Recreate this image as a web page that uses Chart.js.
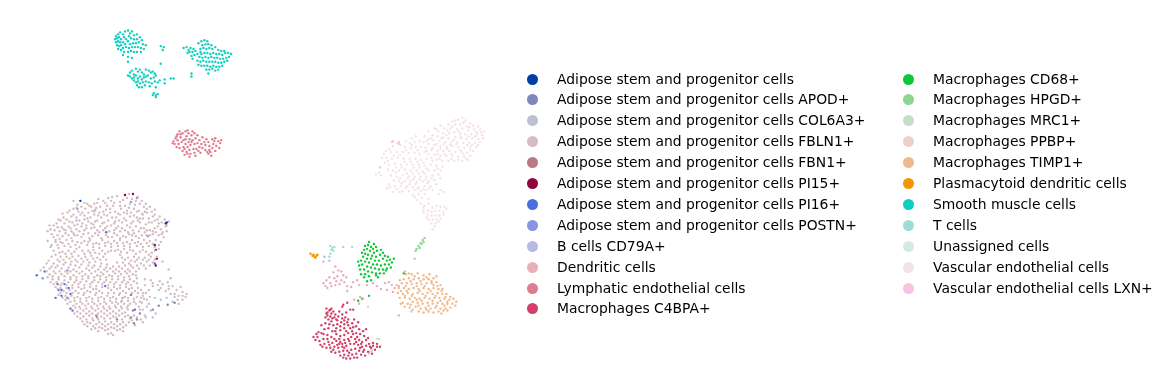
<!DOCTYPE html>
<html>
<head>
<meta charset="utf-8">
<title>UMAP cell types</title>
<script src="https://cdn.jsdelivr.net/npm/chart.js@4/dist/chart.umd.min.js"></script>
<style>
  body { margin: 0; background: #fff; }
  #wrap { position: relative; width: 1168px; height: 389px; overflow: hidden; }
  #legend {
    position: absolute; left: 526.5px; top: 68.6px;
    font-family: "DejaVu Sans", sans-serif; font-size: 13.89px; color: #000;
  }
  .col { position: absolute; top: 0; }
  .row { height: 20.9px; line-height: 20.9px; white-space: nowrap; position: relative; padding-left: 30.5px; }
  .dot { position: absolute; left: 0; top: 5px; width: 11px; height: 11px; border-radius: 50%; }
</style>
</head>
<body>
<div id="wrap">
  <canvas id="umap" width="1168" height="389"></canvas>
  <div id="legend"></div>
</div>
<script>
// ---------------------------Data------------------------------------------------
const categories = [
  'Adipose stem and progenitor cells', 'Adipose stem and progenitor cells APOD+',
  'Adipose stem and progenitor cells COL6A3+', 'Adipose stem and progenitor cells FBLN1+',
  'Adipose stem and progenitor cells FBN1+', 'Adipose stem and progenitor cells PI15+',
  'Adipose stem and progenitor cells PI16+', 'Adipose stem and progenitor cells POSTN+',
  'B cells CD79A+', 'Dendritic cells', 'Lymphatic endothelial cells', 'Macrophages C4BPA+',
  'Macrophages CD68+', 'Macrophages HPGD+', 'Macrophages MRC1+', 'Macrophages PPBP+',
  'Macrophages TIMP1+', 'Plasmacytoid dendritic cells', 'Smooth muscle cells', 'T cells',
  'Unassigned cells', 'Vascular endothelial cells', 'Vascular endothelial cells LXN+'
];
const colors = [
  '#023fa5', '#7d87b9', '#bec1d4', '#d6bcc0', '#bb7784', '#8e063b', '#4a6fe3', '#8595e1',
  '#b5bbe3', '#e6afb9', '#e07b91', '#d33f6a', '#11c638', '#8dd593', '#c6dec7', '#ead3c6',
  '#f0b98d', '#ef9708', '#0fcfc0', '#9cded6', '#d5eae7', '#f3e1eb', '#f6c4e1'
];

// umap positions, as x,y pairs
const adiposeStem = [77,201, 164,223, 163,224, 152,246];
const apod = [128,320, 131,326, 134,322, 137,316, 150,312, 156,308, 165,307, 172,305, 130,313, 128,297];
const col6a3 = [44,242, 48,246, 52,243, 47,248, 150,288, 156,292, 160,286, 166,288, 172,296, 152,300, 158,302, 164,300, 170,304, 176,306, 146,306, 120,300, 118,304, 125,308, 142,318, 150,320, 70,201, 138,300, 143,295, 168,280];
const fbn1 = [114,322, 93,318];
const pi15 = [122,195, 130,194, 153,251, 154,260, 153,267];
const pi16 = [33,277, 41,273, 52,300, 54,286, 61,286, 65,290, 58,292, 55,292, 67,296, 64,300, 58,298, 67,311, 69,313, 102,288, 132,312, 152,265, 103,233];
const postn = [39,280, 64,272, 74,209, 128,202, 134,198, 145,237, 94,320];
const bCells = [323,258, 328,262, 414,260, 73,221, 92,210];
const dendritic = [334,268, 337,272, 332,274, 340,273, 336,278, 333,280, 328,279, 340,282, 325,282, 329,285, 324,288, 330,288, 334,287, 338,286, 343,284, 346,288, 322,285, 326,290, 335,283, 342,277, 352,284, 356,282, 350,289, 346,293, 358,287, 366,287, 372,285, 376,288, 380,291, 384,285, 388,284, 391,287, 394,290, 386,292, 392,294, 398,288, 353,302, 358,306, 362,301, 398,318, 322,263, 345,279];
const lymphatic = [171,140, 173,137, 175,133, 177,130, 180,132, 183,130, 186,132, 189,134, 172,143, 175,139, 178,136, 181,139, 184,135, 187,138, 176,143, 179,141, 183,143, 186,141, 190,139, 193,137, 177,147, 181,146, 185,146, 188,144, 192,143, 195,142, 180,150, 184,151, 187,149, 191,148, 185,153, 188,153, 192,152, 196,150, 200,147, 203,144, 206,141, 210,138, 213,137, 216,140, 218,142, 204,138, 207,145, 211,143, 214,145, 217,147, 203,149, 207,149, 210,147, 213,150, 206,153, 209,155, 205,151, 199,143, 197,139, 195,134, 200,136, 174,146, 190,130, 182,148,
  178,133, 185,129, 192,132, 174,135, 170,142, 183,138, 189,141, 197,146, 194,148, 198,152, 193,155, 187,156, 182,154, 208,151, 212,140, 219,139, 202,141];
const c4bpa = [326,315, 328,313, 330,316, 332,314, 334,317, 326,318, 329,319, 331,321, 333,320, 327,322, 324,320, 330,324, 335,322, 337,319, 338,314, 341,317, 344,320, 347,322, 340,325, 343,327, 336,327, 332,328, 328,327, 324,326, 320,328, 317,335, 312,340, 316,340, 320,336, 323,332, 327,331, 331,334, 335,331, 339,333, 343,331, 347,328, 351,326, 355,329, 358,332, 362,334, 363,339, 359,337, 355,336, 351,334, 347,336, 343,338, 339,339, 335,337, 330,340, 326,338, 322,342, 318,344, 314,343, 319,348, 323,347, 327,345, 331,346, 335,344, 339,345, 343,343, 347,342, 350,340, 354,342, 358,343, 361,345, 365,343, 368,347, 372,346, 376,350, 379,350, 374,353, 370,351, 365,349, 361,350, 357,348, 353,347, 349,347, 345,349, 341,350, 337,351, 333,350, 329,351, 325,351, 330,355, 334,356, 338,355, 342,354, 346,354, 350,353, 354,352, 358,354, 362,355, 367,355, 371,357, 364,359, 360,358, 355,357, 351,358, 347,359, 343,358, 339,359, 345,362, 349,362, 353,361, 342,361, 338,347, 329,312, 325,311, 343,323, 349,312, 353,322, 357,325, 341,309, 346,305, 352,312, 345,315, 342,307, 365,332,
  325,316, 330,311, 336,323, 339,329, 345,334, 322,337, 315,337, 333,342, 328,348, 321,350, 336,348, 341,347, 348,344, 352,337, 356,340, 349,331, 341,321, 360,347, 363,353, 369,350, 356,361, 348,356, 343,351, 338,342, 344,346, 332,353, 326,342, 334,334, 352,330, 346,325, 367,341, 372,349, 376,347, 359,351, 355,345];
const cd68 = [364,247, 367,246, 370,248, 372,250, 375,248, 363,251, 366,250, 369,252, 373,254, 376,252, 361,254, 364,255, 367,256, 371,257, 375,258, 379,256, 382,254, 384,257, 387,258, 389,261, 391,264, 386,262, 382,260, 378,262, 374,262, 370,260, 366,260, 362,258, 360,262, 364,263, 368,264, 372,266, 376,266, 380,267, 384,266, 388,266, 390,269, 386,270, 382,271, 378,271, 374,270, 370,269, 366,268, 361,266, 358,267, 359,271, 363,271, 367,273, 371,274, 375,275, 379,275, 383,275, 364,276, 368,278, 363,279, 366,283, 370,282, 375,277, 377,279, 368,298, 361,301, 357,303, 403,275, 373,245, 368,243, 380,251, 393,260, 385,272, 357,263, 360,276];
const hpgd = [424,239, 422,241, 423,243, 420,244, 418,247, 416,250, 415,252, 419,249, 421,245, 359,299];
const mrc1 = [370,352, 371,354, 369,355, 368,357, 378,342];
const ppbp = [411,314, 367,309];
const timp1 = [405,276, 411,276, 417,275, 423,277, 429,276, 403,281, 408,280, 413,281, 418,280, 423,281, 428,281, 433,280, 401,285, 406,285, 411,286, 416,285, 421,286, 426,285, 431,285, 436,284, 440,287, 398,290, 403,290, 408,291, 413,290, 418,291, 423,290, 428,291, 433,290, 438,291, 442,291, 397,295, 402,296, 407,295, 412,296, 417,295, 422,296, 427,295, 432,296, 437,295, 442,296, 446,296, 450,299, 399,300, 404,300, 409,301, 414,300, 419,301, 424,300, 429,301, 434,300, 439,300, 444,301, 449,302, 453,301, 456,304, 402,305, 407,306, 412,304, 417,305, 422,306, 427,305, 432,306, 437,305, 442,306, 447,306, 452,306, 455,308, 409,310, 415,309, 420,311, 425,310, 430,311, 435,310, 440,311, 445,311, 450,310, 418,314, 423,315, 428,314, 433,315, 438,314, 443,313, 447,313, 399,282, 396,287, 404,273, 436,278,
  408,275, 414,278, 420,283, 426,279, 431,283, 405,288, 410,283, 416,288, 424,288, 433,287, 437,288, 400,293, 406,293, 411,298, 419,293, 425,298, 430,293, 435,298, 441,293, 445,299, 404,298, 416,302, 421,303, 432,303, 440,303, 447,304, 410,307, 418,308, 428,308, 436,308, 444,308, 412,312, 426,312, 441,316, 400,306, 404,309];
const plasmacytoid = [309,255, 312,256, 313,258, 315,257, 314,259, 316,256, 311,257];
const smoothMuscle = [
  // top left group
  113,33, 115,31, 117,29, 120,31, 122,28, 125,27, 127,30, 129,28, 131,32, 134,31, 112,36, 114,35, 116,34, 118,36, 121,34, 123,36, 126,33, 128,35, 131,36, 134,36, 137,34, 139,37, 113,39, 115,38, 117,39, 120,39, 122,41, 125,38, 127,41, 130,40, 133,40, 136,39, 140,41, 143,42, 114,42, 116,43, 118,42, 120,45, 123,44, 126,45, 129,44, 132,44, 135,44, 138,45, 141,46, 115,46, 118,47, 121,49, 125,49, 128,48, 131,49, 134,49, 138,49, 120,52, 125,54, 129,55, 125,59, 158,43, 160,47,
  // right group
  181,45, 184,44, 186,47, 188,45, 191,46, 185,50, 187,49, 190,49, 193,48, 189,53, 192,52, 195,51, 198,49, 197,54, 196,40, 199,38, 202,37, 205,38, 200,42, 203,41, 206,41, 209,42, 198,46, 201,45, 204,46, 207,45, 210,46, 213,44, 216,47, 219,48, 222,48, 199,51, 202,50, 205,50, 208,51, 211,50, 214,51, 217,51, 220,52, 223,50, 226,50, 229,51, 200,55, 203,54, 206,55, 209,54, 212,55, 215,55, 218,56, 221,56, 224,55, 227,54, 195,58, 198,59, 201,58, 204,59, 207,59, 210,59, 213,59, 216,60, 219,60, 222,59, 225,58, 196,62, 199,63, 202,63, 205,63, 208,64, 211,63, 214,64, 217,64, 220,63, 204,67, 207,67, 210,66, 213,68, 216,67, 206,71, 190,56, 189,71,
  // lower group
  125,73, 127,70, 129,68, 131,72, 133,66, 135,69, 137,67, 139,70, 141,72, 143,67, 146,68, 148,70, 150,69, 152,71, 127,74, 129,76, 131,75, 133,73, 135,76, 137,74, 139,77, 141,75, 143,74, 145,73, 148,76, 151,75, 153,73, 131,78, 133,80, 135,79, 137,81, 140,80, 143,79, 146,80, 149,81, 152,79, 134,83, 136,85, 139,85, 142,83, 147,84, 153,85, 155,80, 157,78, 162,77, 162,81, 151,91, 153,93, 155,92, 153,95, 150,93, 168,76, 171,76, 158,61, 161,44, 189,74
];
const tCells = [329,247, 331,249, 333,248, 330,251, 332,252, 329,255, 328,258, 342,248, 351,248];
const unassigned = [410,314, 339,286, 376,342];
const vascular = [
  // upper right lobe
  462,116, 458,118, 452,120, 465,119, 470,122, 448,123, 455,123, 460,123, 467,125, 473,124, 478,125, 440,124, 444,127, 450,127, 457,128, 462,127, 468,129, 474,128, 480,128, 484,130, 434,127, 438,130, 443,132, 449,132, 454,131, 460,132, 465,133, 471,133, 477,133, 482,134, 428,130, 432,134, 437,135, 443,136, 448,137, 455,136, 461,137, 466,138, 472,137, 478,138, 483,137, 424,135, 428,138, 433,139, 439,140, 445,141, 451,141, 457,141, 463,142, 469,142, 475,142, 480,141, 423,141, 428,143, 434,144, 440,145, 446,146, 452,145, 458,146, 464,147, 470,146, 476,146, 425,147, 431,149, 437,150, 443,150, 449,150, 455,151, 461,151, 467,152, 473,150, 428,153, 434,154, 440,155, 446,155, 452,155, 458,156, 464,156, 470,155, 436,159, 442,160, 448,160, 454,160, 462,160, 468,159,
  455,119, 463,121, 447,129, 452,125, 458,130, 469,126, 476,131, 436,128, 441,137, 431,137, 446,134, 453,139, 460,135, 468,135, 475,135, 481,131, 426,140, 436,143, 443,143, 450,144, 456,143, 467,144, 472,144, 478,144, 432,147, 440,148, 447,148, 460,149, 470,149, 426,150, 437,153, 444,153, 451,153, 463,153, 431,157, 439,158, 451,158, 458,159, 466,158,
  // left lobe
  411,137, 415,135, 405,140, 409,142, 414,141, 419,140, 396,142, 400,144, 404,146, 410,147, 415,146, 420,146, 392,145, 388,148, 385,150, 383,153, 390,151, 396,151, 402,151, 408,152, 414,152, 419,153, 424,151, 381,157, 385,157, 391,158, 397,157, 403,158, 409,158, 415,158, 420,159, 426,158, 432,160, 384,162, 388,164, 394,163, 400,164, 406,164, 412,164, 418,164, 424,165, 430,164, 436,165, 442,166, 387,169, 392,170, 398,170, 404,169, 410,170, 416,170, 422,171, 428,170, 434,170, 440,170, 378,172, 375,174, 380,175, 390,175, 396,176, 402,175, 408,176, 414,176, 420,176, 426,176, 432,175, 438,174, 393,180, 398,181, 404,181, 410,181, 416,182, 422,181, 428,181, 434,180, 440,178, 388,184, 394,186, 400,186, 406,186, 412,187, 418,187, 424,186, 430,186, 436,184, 396,189, 402,191, 408,191, 414,190, 420,191, 426,190, 432,190, 440,190, 386,188, 392,192, 412,195, 418,194, 424,194, 438,194, 443,192, 389,187,
  411,144, 417,149, 405,149, 399,154, 393,155, 387,160, 404,161, 410,161, 417,161, 423,162, 395,167, 401,167, 413,167, 419,167, 426,168, 437,168, 406,173, 412,173, 418,173, 424,173, 395,172, 399,178, 407,178, 413,179, 419,179, 425,179, 431,178, 401,183, 409,184, 415,184, 427,183, 405,188, 417,189, 423,189, 429,188, 399,192,
  // tail
  414,197, 416,200, 421,198, 428,199, 420,204, 424,206, 428,204, 432,208, 436,206, 440,207, 444,207, 446,209, 423,210, 427,211, 431,212, 435,211, 439,211, 443,212, 427,215, 431,216, 435,216, 439,216, 443,215, 423,207, 428,220, 432,220, 436,220, 440,219, 431,224, 435,224, 438,222, 434,227, 432,230, 423,213, 426,218
];
const lxn = [392,140, 398,141, 398,143, 379,167, 391,141];
const fbln1 = [
  100,201, 105,198, 111,203, 114,196, 120,200, 124,198, 129,199, 135,197, 91,204, 97,207, 104,206, 117,206, 127,204, 137,204, 141,207, 84,204, 78,207, 109,197, 132,205, 122,206,
  70,209, 75,212, 82,209, 89,211, 93,208, 100,212, 107,209, 112,212, 118,209, 124,211, 131,209, 136,211, 144,209, 149,212, 86,206, 96,213, 115,214, 128,213, 139,214, 79,213,
  64,213, 68,217, 73,218, 81,216, 87,218, 91,215, 98,218, 104,216, 109,218, 117,215, 121,219, 127,217, 134,218, 140,215, 146,219, 152,215, 157,217, 60,218, 76,221, 85,222, 94,221, 101,223, 112,222, 119,223, 130,222, 137,223,
  55,220, 61,224, 66,222, 71,226, 79,224, 83,226, 90,225, 97,227, 104,227, 108,226, 115,227, 124,226, 127,228, 133,227, 143,225, 149,223, 156,224, 162,220, 166,222, 50,226, 58,228, 65,227, 73,230, 88,229, 94,231, 122,231, 136,232, 141,229, 147,231,
  46,226, 51,231, 56,232, 62,231, 68,232, 76,232, 81,231, 85,234, 100,231, 106,232, 111,231, 117,232, 130,231, 152,229, 158,230, 163,227, 48,235, 54,236, 59,237, 65,236, 71,236, 78,238, 89,237, 95,236, 103,236, 109,238, 114,236, 120,237, 126,235, 133,237, 139,236, 144,236, 150,235, 156,236, 161,238,
  52,241, 57,243, 63,241, 69,242, 74,243, 81,242, 87,241, 93,244, 99,241, 105,243, 111,242, 117,241, 124,243, 129,241, 135,243, 141,241, 147,242, 153,241, 158,243, 61,247, 67,248, 76,248, 84,246, 90,248, 96,249, 102,247, 108,248, 115,247, 121,247, 127,248, 134,247, 140,248, 146,247, 152,248,
  55,249, 59,253, 65,252, 71,253, 79,252, 85,252, 92,254, 99,252, 105,253, 112,252, 118,253, 124,254, 130,252, 137,253, 143,253, 149,254, 156,250, 52,256, 57,258, 63,258, 69,258, 75,257, 82,258, 88,257, 94,259, 100,258, 119,259, 125,259, 131,258, 136,259, 142,259, 148,258, 154,258,
  45,262, 50,265, 56,263, 62,264, 68,263, 74,263, 80,263, 86,264, 92,263, 98,265, 104,266, 114,264, 120,264, 126,265, 132,263, 138,265, 144,263, 150,264, 160,263, 40,269, 46,270, 52,269, 58,270, 65,269, 70,271, 76,269, 83,270, 89,269, 95,271, 101,271, 107,270, 113,271, 119,270, 125,271, 130,269, 136,270, 143,270, 166,271,
  46,276, 52,275, 58,276, 64,275, 70,277, 76,275, 82,276, 88,275, 94,277, 100,276, 106,277, 112,275, 118,276, 124,275, 130,276, 49,281, 55,281, 61,282, 67,281, 73,282, 79,281, 85,280, 91,282, 97,281, 103,282, 109,281, 115,281, 121,282, 127,281, 134,280, 142,281,
  50,286, 57,287, 63,287, 69,287, 75,286, 81,287, 87,286, 93,288, 99,286, 105,287, 111,286, 117,287, 123,286, 128,287, 134,285, 150,285, 157,283, 165,284, 54,291, 60,293, 66,292, 72,293, 78,291, 84,293, 90,291, 96,293, 108,292, 114,291, 120,293, 126,291, 132,293, 138,292, 146,292, 158,290, 166,291, 174,292, 180,294, 184,296,
  55,297, 62,298, 68,298, 74,299, 80,297, 86,299, 92,297, 98,299, 104,298, 110,299, 116,297, 122,299, 128,297, 134,299, 140,298, 147,299, 168,296, 176,298, 183,299, 62,302, 71,303, 77,304, 83,303, 89,304, 95,303, 101,304, 107,303, 113,304, 119,303, 125,303, 131,304, 137,304, 144,302, 175,302, 180,302,
  64,306, 70,308, 76,309, 82,308, 88,309, 94,308, 100,309, 106,309, 112,308, 118,309, 124,310, 136,309, 68,312, 74,314, 80,313, 86,314, 92,313, 98,314, 104,313, 110,314, 116,313, 122,315, 140,312, 148,313, 153,316, 74,319, 80,319, 86,318, 98,319, 104,318, 110,319, 116,318, 122,319, 134,320, 143,320,
  79,324, 84,325, 90,323, 96,325, 102,324, 108,325, 114,324, 120,325, 126,325, 84,329, 90,329, 96,330, 102,329, 108,330, 114,329, 120,330, 132,328, 140,325, 88,332, 95,334, 102,333, 108,336, 114,333, 120,334, 105,337, 110,338,
  // filled in between the rows above
  95,199, 102,203, 108,201, 117,202, 126,194, 133,201, 139,201, 88,207, 74,205, 81,203, 94,203, 143,204, 147,207, 66,211, 73,208, 85,213, 91,212, 103,210, 110,206, 121,213, 126,208, 134,212, 142,212, 152,210, 59,214, 70,215, 77,215, 84,219, 95,216, 101,215, 107,213, 113,218, 124,214, 131,216, 137,219, 144,213, 150,217, 155,220,
  53,224, 57,221, 63,220, 69,223, 74,225, 81,220, 88,224, 92,222, 99,224, 105,221, 111,224, 116,221, 123,221, 128,224, 135,221, 140,219, 146,223, 152,221, 159,223, 164,226, 47,230, 54,228, 60,230, 67,229, 70,234, 78,227, 83,229, 91,228, 96,233, 102,229, 113,229, 119,229, 125,233, 131,234, 138,229, 144,231, 150,232, 155,227, 160,233,
  44,232, 50,238, 56,240, 62,234, 68,239, 74,236, 80,235, 86,239, 92,234, 98,239, 105,238, 111,234, 117,239, 123,238, 129,236, 136,239, 142,233, 147,236, 153,233, 159,235, 164,232, 54,246, 59,244, 65,245, 72,246, 78,244, 85,243, 90,245, 96,245, 102,244, 108,245, 114,244, 120,244, 127,245, 132,244, 138,245, 144,244, 150,245, 156,246,
  50,252, 56,254, 62,255, 68,255, 73,250, 81,255, 87,254, 90,251, 96,255, 102,255, 108,252, 115,251, 121,250, 127,251, 133,255, 140,251, 146,256, 152,252, 48,258, 54,261, 60,261, 66,260, 72,261, 78,260, 84,261, 90,260, 97,261, 103,261, 117,256, 122,261, 128,262, 134,261, 140,261, 146,261, 152,261,
  43,265, 48,268, 54,267, 60,266, 67,266, 72,267, 78,266, 85,267, 91,267, 97,268, 103,269, 110,268, 116,268, 122,267, 128,267, 134,267, 141,267, 147,267, 37,272, 43,273, 50,273, 56,273, 62,273, 67,273, 73,273, 79,273, 86,272, 92,273, 98,274, 104,273, 110,273, 116,273, 122,273, 127,273, 133,273,
  44,279, 49,278, 55,279, 61,278, 67,279, 73,279, 79,278, 85,278, 91,279, 97,278, 103,279, 109,278, 115,278, 121,279, 126,278, 133,277, 47,284, 53,284, 59,285, 65,284, 71,284, 77,284, 83,283, 89,284, 95,284, 101,284, 107,284, 113,284, 119,284, 125,284, 131,283, 148,282, 155,287,
  52,289, 57,290, 63,290, 69,290, 75,289, 81,290, 87,289, 93,291, 99,289, 105,290, 111,289, 117,290, 123,289, 129,290, 135,290, 142,287, 163,293, 170,288, 178,289, 57,295, 63,295, 69,295, 75,295, 81,295, 87,294, 93,295, 99,295, 105,295, 111,295, 117,295, 123,295, 129,295, 135,295, 140,295, 172,299, 180,298,
  59,300, 65,301, 71,300, 77,301, 83,300, 89,301, 95,300, 101,301, 107,300, 113,301, 119,300, 125,300, 131,301, 141,301, 67,304, 73,306, 79,306, 85,306, 91,306, 97,306, 103,306, 109,305, 115,306, 121,306, 127,306, 133,306, 139,305, 72,310, 77,311, 83,311, 89,311, 95,311, 101,311, 107,311, 113,310, 119,311, 125,312, 137,312, 144,309,
  71,316, 77,316, 83,316, 89,316, 95,316, 101,316, 107,316, 113,316, 119,316, 125,318, 131,318, 138,322, 77,321, 83,322, 89,321, 95,322, 101,321, 107,321, 113,320, 119,322, 127,321, 81,327, 87,326, 93,327, 99,327, 105,327, 111,327, 117,327, 123,328, 129,323, 92,331, 99,331, 105,332, 111,331, 117,332
];
const series = [adiposeStem, apod, col6a3, fbln1, fbn1, pi15, pi16, postn, bCells, dendritic, lymphatic, c4bpa, cd68, hpgd, mrc1, ppbp, timp1, plasmacytoid, smoothMuscle, tCells, unassigned, vascular, lxn];

// turn x,y pairs into chart points
function toPoints(flat) {
  const pts = [];
  for (let i = 0; i < flat.length; i += 2) {
    pts.push({ x: flat[i], y: flat[i + 1] });
  }
  return pts;
}

// ---------------------------Chart------------------------------------------------
new Chart(document.getElementById('umap').getContext('2d'), {
  type: 'scatter',
  data: {
    datasets: categories.map((name, i) => ({
      label: name,
      data: toPoints(series[i]),
      backgroundColor: colors[i],
      borderWidth: 0,
      pointRadius: 1.2
    }))
  },
  options: {
    responsive: false,
    animation: false,
    layout: { padding: { right: 668 } },
    plugins: { legend: { display: false }, tooltip: { enabled: false } },
    scales: {
      x: { display: false, min: 0, max: 500 },
      y: { display: false, min: 0, max: 389, reverse: true }
    }
  }
});

// ---------------------------Legend-----------------------------------------------
const legend = document.getElementById('legend');
[[0, 12, 0], [12, 23, 376]].forEach(([from, to, left]) => {
  const col = document.createElement('div');
  col.className = 'col';
  col.style.left = left + 'px';
  categories.slice(from, to).forEach((name, i) => {
    const row = document.createElement('div');
    row.className = 'row';
    const dot = document.createElement('span');
    dot.className = 'dot';
    dot.style.background = colors[from + i];
    row.appendChild(dot);
    row.appendChild(document.createTextNode(name));
    col.appendChild(row);
  });
  legend.appendChild(col);
});
</script>
</body>
</html>
